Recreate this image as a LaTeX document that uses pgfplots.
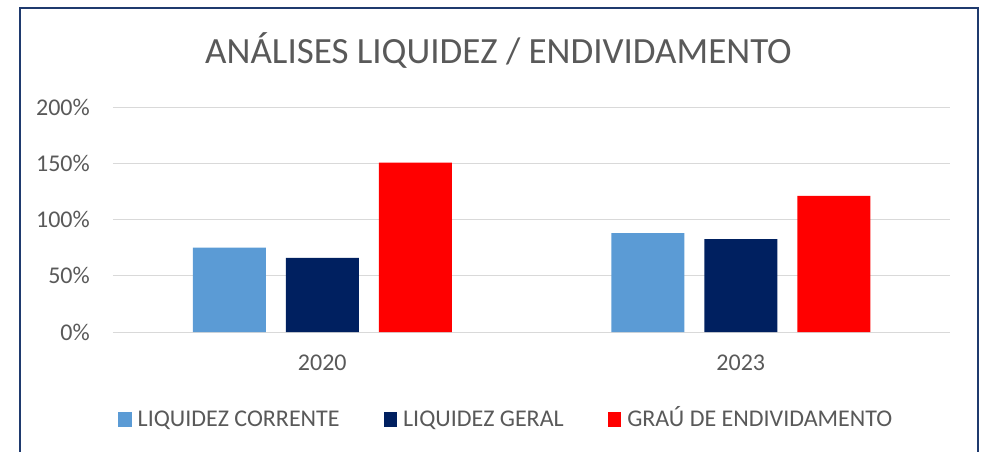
\documentclass[border=0pt]{standalone}
\usepackage{pgfplots}
\pgfplotsset{compat=1.18}
\usepackage{fontspec}
\setmainfont{Carlito}
\definecolor{lb}{HTML}{5B9BD5}
\definecolor{nv}{HTML}{002060}
\definecolor{rd}{HTML}{FF0000}
\definecolor{txt}{HTML}{595959}
\definecolor{grd}{HTML}{D9D9D9}
\definecolor{frm}{HTML}{1F3A6E}
\begin{document}
\begin{tikzpicture}
\path[use as bounding box] (-113pt,-119pt) rectangle (869pt,332pt);
\draw[frm, line width=2pt] (-93pt,-130pt) -- (-93pt,324pt) -- (864.7pt,324pt) -- (864.7pt,-130pt);
\node[txt, anchor=base, font=\fontsize{37}{44}\selectfont, inner sep=0pt] at (385.5pt,269pt) {ANÁLISES LIQUIDEZ / ENDIVIDAMENTO};
\begin{axis}[at={(0pt,0pt)}, anchor=south west, width=837pt, height=225pt, scale only axis,
 xmin=-0.5, xmax=1.5, ymin=0, ymax=200,
 ybar=20pt, bar width=73pt,
 xtick={0,1}, xticklabels={2020,2023},
 ytick={0,50,100,150,200}, yticklabels={0\%,50\%,100\%,150\%,200\%},
 ymajorgrids, grid style={grd, line width=1pt},
 axis line style={draw=none}, major tick length=0pt,
 tick label style={txt, font=\fontsize{24}{29}\selectfont},
 xticklabel style={inner sep=0pt, anchor=north, yshift=-23pt},
 yticklabel style={inner sep=0pt, anchor=east, xshift=-23pt},
 legend style={draw=none, at={(0.006,-0.389)}, anchor=west, inner sep=0pt, legend columns=-1,
   font=\fontsize{24}{29}\selectfont, text=txt,
   nodes={inner sep=0pt, text height=14.5pt, text depth=0pt},
   /tikz/every odd column/.append style={column sep=6pt},
   /tikz/every even column/.append style={column sep=44pt}},
 legend image code/.code={\fill[#1] (0pt,-7.25pt) rectangle (13.5pt,7.25pt);},
 clip=false]
\addplot[fill=lb, draw=none] coordinates {(0,75) (1,88)};
\addplot[fill=nv, draw=none] coordinates {(0,66) (1,82.5)};
\addplot[fill=rd, draw=none] coordinates {(0,150.5) (1,121)};
\legend{LIQUIDEZ CORRENTE, LIQUIDEZ GERAL, GRAÚ DE ENDIVIDAMENTO}
\end{axis}
\end{tikzpicture}
\end{document}
